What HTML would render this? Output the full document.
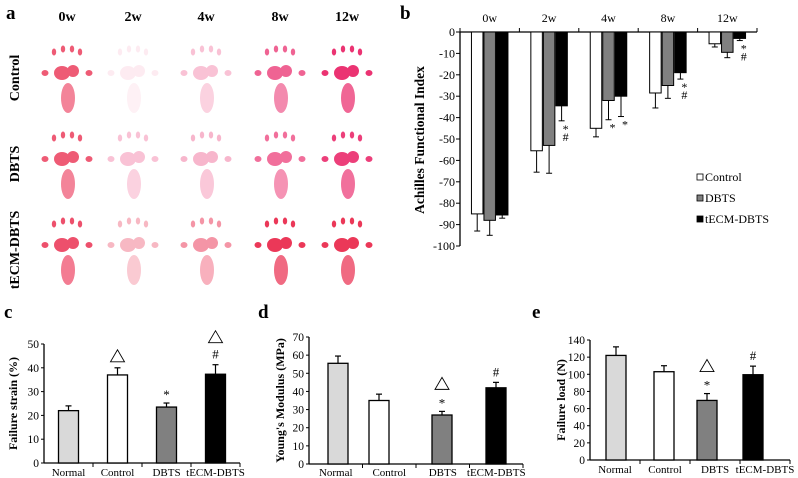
<!DOCTYPE html>
<html><head><meta charset="utf-8"><style>
html,body{margin:0;padding:0;background:#fff;width:798px;height:478px;overflow:hidden}
svg{display:block;font-family:"Liberation Serif",serif}
</style></head><body>
<svg id="fig" width="798" height="478" viewBox="0 0 798 478">
<g id="paws"></g>
<g id="pb"></g>
<g id="pc"></g>
<g id="pd"></g>
<g id="pe"></g>
</svg>
<script>
// ---- Panel b data ----
const weeks = ["0w","2w","4w","8w","12w"];
const seriesNames = ["Control","DBTS","tECM-DBTS"];
const controlVals = [-85,-55.5,-45,-28.5,-5.5];
const controlErr = [8,10,4,7,1.5];
const dbtsVals = [-88,-53,-32,-25,-9.5];
const dbtsErr = [7,13,9,6,2.5];
const tecmVals = [-85.5,-34.5,-30,-19,-3];
const tecmErr = [1.5,7,9.5,3,1];
const bTicks = [0,-10,-20,-30,-40,-50,-60,-70,-80,-90,-100];
// ---- Panels c,d,e data ----
const groups = ["Normal","Control","DBTS","tECM-DBTS"];
const strainVals = [22,37,23.5,37.3];
const strainErr = [2,3,1.7,4];
const strainTicks = [0,10,20,30,40,50];
const modulusVals = [55.5,35,27,42];
const modulusErr = [4,3.5,2,3];
const modulusTicks = [0,10,20,30,40,50,60,70];
const loadVals = [122,103,69.5,99.5];
const loadErr = [10,7,8,10];
const loadTicks = [0,20,40,60,80,100,120,140];

const NS="http://www.w3.org/2000/svg";
function mk(tag,attrs,parent,txt){const e=document.createElementNS(NS,tag);for(const k in attrs)e.setAttribute(k,attrs[k]);if(txt!==undefined)e.textContent=txt;parent.appendChild(e);return e;}

const fig=document.getElementById('fig');
[["a",6,19],["b",400,19],["c",4,318],["d",258,318],["e",532,318]].forEach(l=>{
  const t=mk('text',{x:l[1],y:l[2],'font-size':19,'font-weight':'bold'},fig,l[0]);
  
  
});

// ---- Panel a: paw prints (decorative) ----
const paws=document.getElementById('paws');
const colX=[67,133,206,280,347];
const rowY=[40,126,212];
weeks.forEach((w,i)=>{
  const t=mk('text',{x:colX[i],y:21,'font-size':14,'font-weight':'bold','text-anchor':'middle'},paws,w);
  
  
});
["Control","DBTS","tECM-DBTS"].forEach((r,i)=>{
  const cy=rowY[i]+38;
  const t=mk('text',{x:0,y:0,'font-size':14,'font-weight':'bold','text-anchor':'middle',transform:`translate(19,${cy}) rotate(-90)`},paws,r);
  
  
});
const intens=[[0.7,0.08,0.25,0.65,0.85],[0.7,0.25,0.3,0.6,0.8],[0.75,0.3,0.45,0.85,0.85]];
for(let r=0;r<3;r++)for(let c=0;c<5;c++){
  const g=mk('g',{opacity:intens[r][c],fill:(c===0||r===2)?"#e8163c":"#e8105a"},paws);
  
  
  const x=colX[c],y=rowY[r];
  [[-13,12],[-4,9],[5,9],[13,12]].forEach(d=>mk('ellipse',{cx:x+d[0],cy:y+d[1],rx:2.2,ry:3.5},g));
  mk('ellipse',{cx:x-22,cy:y+33,rx:3.5,ry:3},g);
  mk('ellipse',{cx:x+22,cy:y+33,rx:3.5,ry:3},g);
  mk('ellipse',{cx:x-5,cy:y+33,rx:8,ry:7},g);
  mk('ellipse',{cx:x+6,cy:y+31,rx:6,ry:6},g);
  mk('ellipse',{cx:x+1,cy:y+58,rx:7,ry:15,opacity:0.75},g);
}

// ---- Panel b ----
(function(){
  const g=document.getElementById('pb');
  const x0=460,x1=757,yTop=32,yBot=246;
  const ys=v=>yTop+(-v)/100*(yBot-yTop);
  const band=(x1-x0)/weeks.length;
  const bw=12.5;
  mk('line',{x1:x0,y1:yTop,x2:x1,y2:yTop,stroke:'#000','stroke-width':1.3},g);
  mk('line',{x1:x0,y1:yTop,x2:x0,y2:yBot,stroke:'#000','stroke-width':1.3},g);
  bTicks.forEach(t=>{
    mk('line',{x1:x0-4,y1:ys(t),x2:x0,y2:ys(t),stroke:'#000'},g);
    const tl=mk('text',{x:x0-5,y:ys(t)+4,'font-size':12,'text-anchor':'end'},g,t);
    
    
  });
  for(let i=0;i<=weeks.length;i++) mk('line',{x1:x0+i*band,y1:yTop,x2:x0+i*band,y2:yTop-4,stroke:'#000'},g);
  const yt=mk('text',{x:0,y:0,'font-size':13.5,'font-weight':'bold','text-anchor':'middle',transform:`translate(424,140) rotate(-90)`},g,"Achilles Functional Index");
  
  
  const all=[[controlVals,controlErr,'#fff'],[dbtsVals,dbtsErr,'#808080'],[tecmVals,tecmErr,'#000']];
  weeks.forEach((w,i)=>{
    const cx=x0+band*(i+0.5);
    const lab=mk('text',{x:cx,y:22,'font-size':12,'text-anchor':'middle'},g,w);
    
    
    all.forEach((s,j)=>{
      const bx=cx-1.5*bw+j*bw;
      const v=s[0][i],e=s[1][i];
      const r=mk('rect',{x:bx+0.5,y:yTop,width:bw-1,height:ys(v)-yTop,fill:s[2],stroke:'#000','stroke-width':1},g);
      
      
      const mx=bx+bw/2;
      mk('line',{x1:mx,y1:ys(v),x2:mx,y2:ys(v-e),stroke:'#000'},g);
      mk('line',{x1:mx-3,y1:ys(v-e),x2:mx+3,y2:ys(v-e),stroke:'#000'},g);
    });
  });
  const marks=[[1,2,["*","#"]],[2,1,["*"]],[2,2,["*"]],[3,2,["*","#"]],[4,2,["*","#"]]];
  marks.forEach(m=>{
    const cx=x0+band*(m[0]+0.5)-1.5*bw+m[1]*bw+bw/2+4;
    const s=all[m[1]];const v=s[0][m[0]]-s[1][m[0]];
    m[2].forEach((ch,k)=>{
      const t=mk('text',{x:cx,y:ys(v)+(ch==="*"?12:10)+k*10,'font-size':12,'text-anchor':'middle'},g,ch);
      
      
    });
  });
  const lc=['#fff','#808080','#000'];
  seriesNames.forEach((n,i)=>{
    const ly=179+i*21;
    const sw=mk('rect',{x:697,y:ly-5,width:6,height:6,fill:lc[i],stroke:'#000','stroke-width':0.8},g);
    
    
    const t=mk('text',{x:705,y:ly+2,'font-size':12},g,n);
    
    
  });
})();

function barChart(id,cfg){
  const g=document.getElementById(id);
  const {x0,x1,y0,yTop,max,vals,errs,ticks,title,titleX,centers,marks}=cfg;
  const ys=v=>y0-v/max*(y0-yTop);
  const band=(x1-x0)/groups.length;
  const fills=['#d9d9d9','#fff','#808080','#000'];
  mk('line',{x1:x0,y1:y0,x2:x1,y2:y0,stroke:'#000','stroke-width':1.3},g);
  mk('line',{x1:x0,y1:y0,x2:x0,y2:yTop,stroke:'#000','stroke-width':1.3},g);
  ticks.forEach(t=>{
    mk('line',{x1:x0-3,y1:ys(t),x2:x0,y2:ys(t),stroke:'#000'},g);
    const tl=mk('text',{x:x0-5,y:ys(t)+4,'font-size':11.5,'text-anchor':'end'},g,t);
    
    
  });
  for(let i=1;i<=groups.length;i++) mk('line',{x1:x0+i*band,y1:y0,x2:x0+i*band,y2:y0+4,stroke:'#000'},g);
  const yt=mk('text',{x:0,y:0,'font-size':12,'font-weight':'bold','text-anchor':'middle',transform:`translate(${titleX},${(y0+yTop)/2}) rotate(-90)`},g,title);
  
  
  groups.forEach((n,i)=>{
    const cx=x0+band*(i+0.5);
    const bc=centers?centers[i]:cx;
    const lab=mk('text',{x:cx,y:Math.min(y0+13,476),'font-size':11,'text-anchor':'middle'},g,n);
    
    
    const v=vals[i],e=errs[i];
    const r=mk('rect',{x:bc-10,y:ys(v),width:20,height:y0-ys(v),fill:fills[i],stroke:'#000','stroke-width':1.3},g);
    
    
    mk('line',{x1:bc,y1:ys(v),x2:bc,y2:ys(v+e),stroke:'#000','stroke-width':1.2},g);
    mk('line',{x1:bc-3,y1:ys(v+e),x2:bc+3,y2:ys(v+e),stroke:'#000','stroke-width':1.2},g);
    (marks[i]||[]).forEach((ch,k,arr)=>{
      const yy=ys(v+e)-6-(arr.length-1-k)*16;
      let el;
      if(ch==="tri") el=mk('polygon',{points:`${bc-7},${yy} ${bc+7},${yy} ${bc},${yy-12}`,fill:'none',stroke:'#000','stroke-width':0.9},g);
      else el=mk('text',{x:bc,y:yy+(ch==="*"?2:0),'font-size':13,'text-anchor':'middle'},g,ch);
      
      
    });
  });
}
barChart('pc',{x0:44,x1:240,y0:463,yTop:344,max:50,vals:strainVals,errs:strainErr,ticks:strainTicks,title:"Failure strain (%)",titleX:17,marks:[[],["tri"],["*"],["tri","#"]]});
barChart('pd',{x0:309,x1:523,y0:464,yTop:337,max:70,vals:modulusVals,errs:modulusErr,ticks:modulusTicks,title:"Young's Modulus (MPa)",titleX:284,centers:[338,379,442,496],marks:[[],[],["tri","*"],["#"]]});
barChart('pe',{x0:590,x1:790,y0:460,yTop:340,max:140,vals:loadVals,errs:loadErr,ticks:loadTicks,title:"Failure load (N)",titleX:565,centers:[616,664,707,753],marks:[[],[],["tri","*"],["#"]]});
</script>
</body></html>
